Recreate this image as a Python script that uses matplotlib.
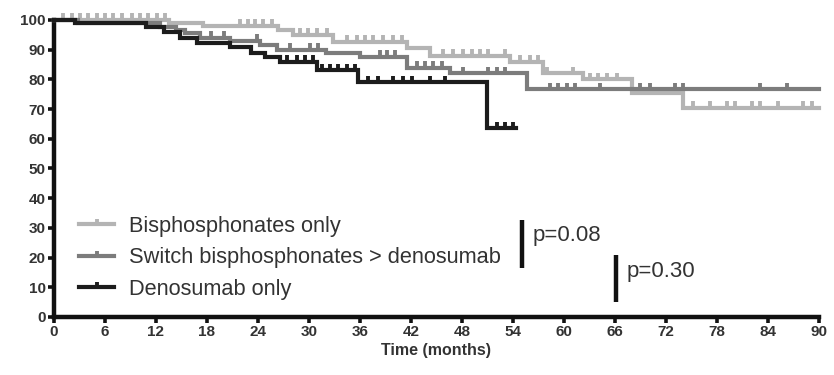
import numpy as np
import matplotlib
matplotlib.use("Agg")
import matplotlib.pyplot as plt
from matplotlib.lines import Line2D

plt.rcParams['font.family'] = ['Liberation Sans', 'DejaVu Sans']

# ---- data (months, % survival) ----
bis_t = [0, 13.5, 17.5, 26.3, 28.1, 32.8, 41.5, 44.2, 53.6, 57.5, 62.2, 68.0, 74.0, 90.0]
bis_s = [100, 99, 98, 96.6, 95, 92.6, 90.5, 88, 86, 82, 80, 75.4, 70.5, 70.5]
bis_c = [1.1, 2.1, 3.1, 4.0, 5.1, 6.0, 6.9, 8.0, 9.2, 10.1, 11.1, 12.1, 13.1,
         21.9, 22.8, 23.6, 24.6, 25.6, 28.9, 29.9, 30.9, 32.1,
         34.5, 35.6, 36.6, 37.5, 38.7, 39.9, 40.9,
         45.8, 46.9, 48.1, 49.2, 50.1, 51.1, 53.1,
         54.8, 56.0, 56.9, 58.0, 61.1, 63.1, 64.0, 65.1, 66.2,
         75.2, 77.2, 79.2, 80.1, 82.1, 83.1, 85.2, 88.1, 89.2]

sw_t = [0, 2.8, 12.5, 14.3, 15.4, 17.2, 20.7, 24.2, 26.2, 32.0, 36.0, 41.5, 46.6, 55.6, 90.0]
sw_s = [100, 99, 97.6, 96.6, 95.6, 94, 93, 91.6, 90, 89, 87.5, 84, 82, 76.6, 76.6]
sw_c = [18.5, 20.0, 23.9, 27.8, 30.1, 31.1, 38.4, 39.2, 40.1,
        42.7, 43.6, 44.6, 45.6, 48.1, 51.1, 52.1, 53.1,
        58.4, 59.3, 60.4, 61.3, 64.2, 69.0, 70.1, 73.1, 74.0, 83.1, 86.2]

den_t = [0, 2.5, 10.8, 13.0, 14.8, 16.8, 20.7, 23.2, 24.8, 26.6, 31.0, 35.8, 51.0, 54.4]
den_s = [100, 99, 97.6, 96, 94, 92.2, 91, 89, 87.5, 86, 83, 79, 63.5, 63.5]
den_c = [27.4, 28.6, 29.5, 30.5, 31.5, 32.5, 33.4, 34.5, 35.4,
         36.9, 38.1, 39.9, 41.1, 42.1, 44.2, 46.0, 52.1, 53.1, 54.0]

labels = ["Bisphosphonates only", "Switch bisphosphonates > denosumab", "Denosumab only"]
colors = ["#b4b4b4", "#7c7c7c", "#1c1c1c"]
xticks = list(range(0, 91, 6))
yticks = list(range(0, 101, 10))

fig = plt.figure(figsize=(8.34, 3.75), dpi=100)
ax = fig.add_axes([0.0647, 0.1547, 0.9173, 0.792])

series = [(bis_t, bis_s, bis_c), (sw_t, sw_s, sw_c), (den_t, den_s, den_c)]
for (t, s, c), col, lab in zip(series, colors, labels):
    t = np.array(t); s = np.array(s)
    ax.step(t, s, where='post', color=col, lw=3.0, solid_joinstyle='miter',
            clip_on=False, zorder=3)
    c = np.array(c)
    idx = np.searchsorted(t, c, side='right') - 1
    ax.plot(c, s[idx] + 0.6, linestyle='none', marker=2, markersize=3.4,
            markeredgewidth=2.8, color=col, clip_on=False, zorder=3)

ax.set_xlim(0, 90)
ax.set_ylim(0, 100)
ax.set_xticks(xticks)
ax.set_yticks(yticks)
for sp in ['top', 'right']:
    ax.spines[sp].set_visible(False)
for sp in ['left', 'bottom']:
    ax.spines[sp].set_linewidth(3.2)
    ax.spines[sp].set_color('#111111')
ax.tick_params(axis='both', direction='out', length=4, width=2.6, color='#111111',
               labelsize=11, pad=2)
for lbl in ax.get_xticklabels() + ax.get_yticklabels():
    lbl.set_fontweight('bold')
    lbl.set_color('#333333')
ax.set_xlabel("Time (months)", fontsize=11.5, fontweight='bold', color='#333333', labelpad=3)

handles = [Line2D([0], [0], color=col, lw=3.0, marker=2, markersize=3.4,
                  markeredgewidth=2.8) for col in colors]
ax.legend(handles, labels, loc='center left', bbox_to_anchor=(0.033, 0.199),
          frameon=False, fontsize=15.7, handlelength=1.6, handletextpad=0.7,
          labelspacing=0.48, borderaxespad=0, borderpad=0, labelcolor='#333333')

# p-value annotations
ax.plot([55.1, 55.1], [16.5, 32.7], color='#111111', lw=3.2, solid_capstyle='butt')
ax.text(56.3, 27.4, "p=0.08", fontsize=16, color='#333333', va='center', ha='left')
ax.plot([66.1, 66.1], [5.0, 20.9], color='#111111', lw=3.2, solid_capstyle='butt')
ax.text(67.4, 15.2, "p=0.30", fontsize=16, color='#333333', va='center', ha='left')

fig.savefig("out.png", dpi=100)
